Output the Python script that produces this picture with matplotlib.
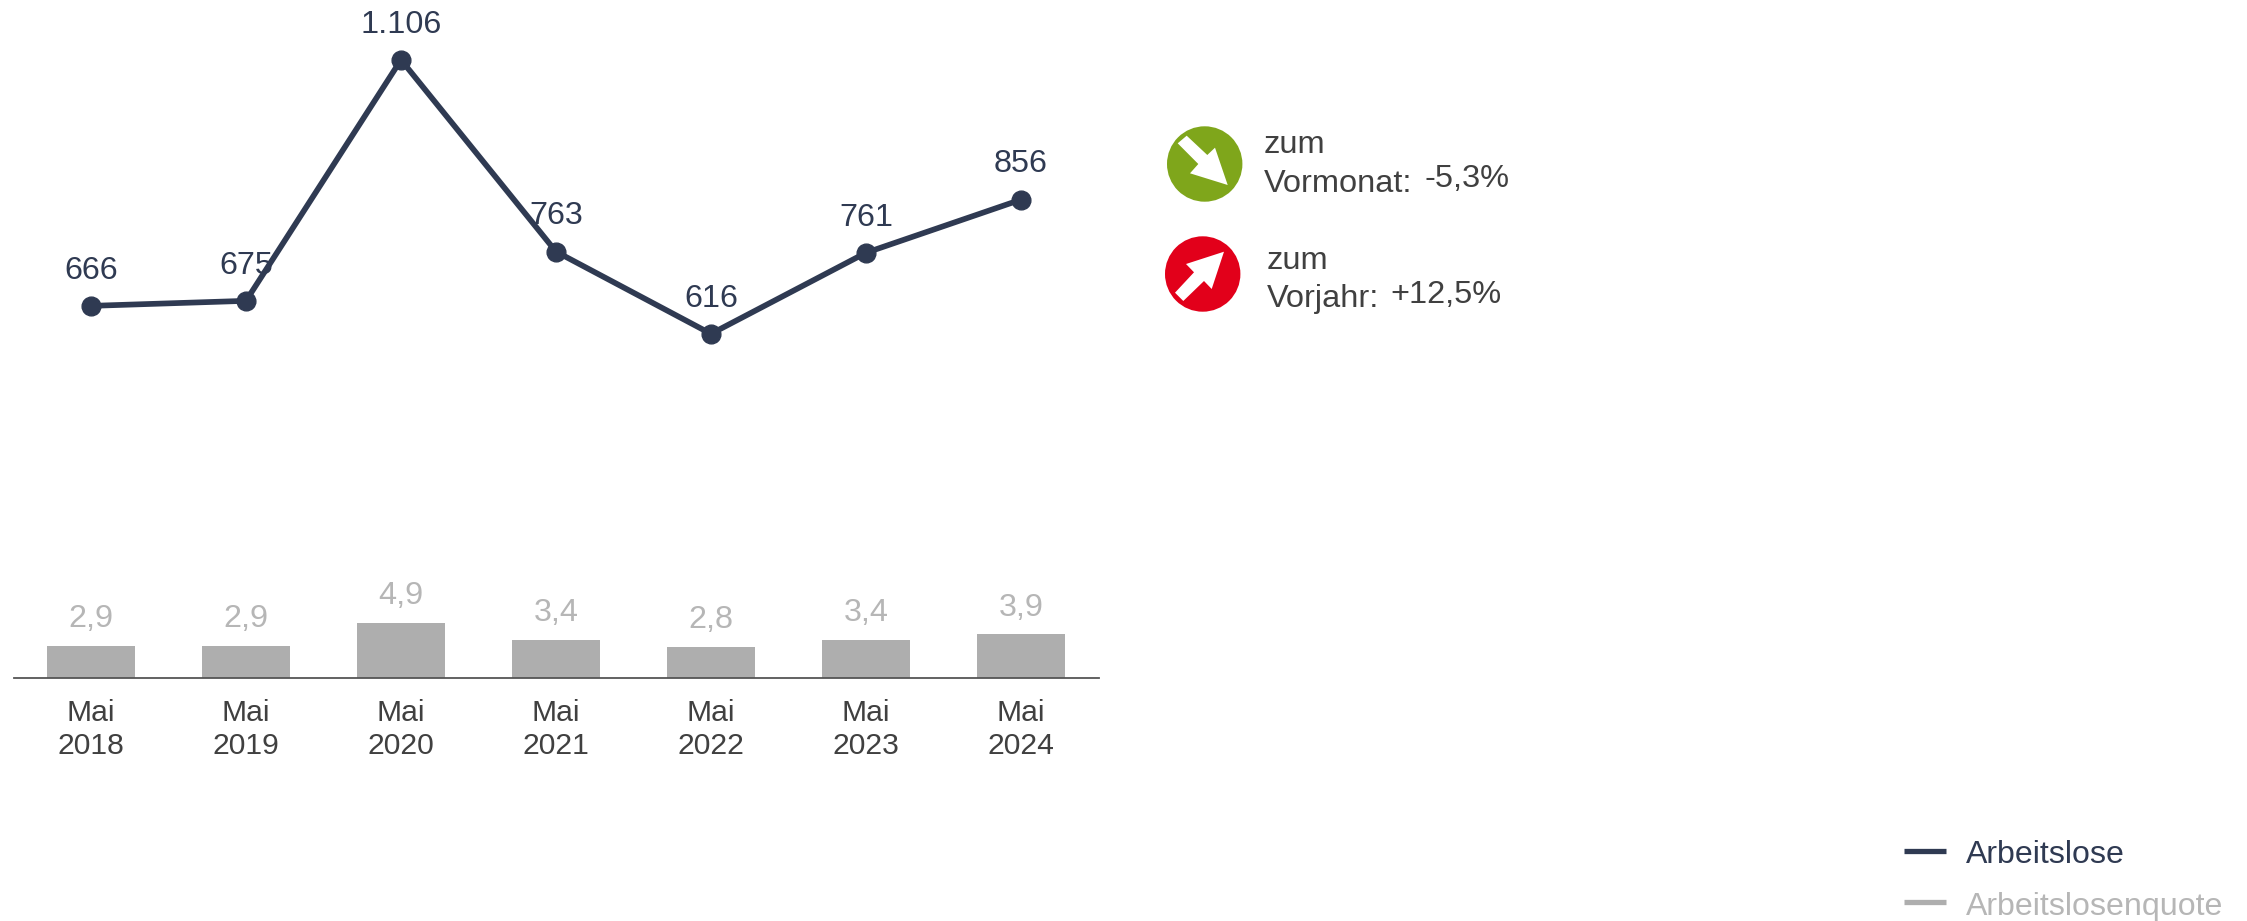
import matplotlib.pyplot as plt
from matplotlib.patches import Circle, Polygon

plt.rcParams['font.family'] = ['Liberation Sans', 'DejaVu Sans']

# data
jahre = ['2018', '2019', '2020', '2021', '2022', '2023', '2024']
arbeitslose = [666, 675, 1106, 763, 616, 761, 856]
arbeitslose_txt = ['666', '675', '1.106', '763', '616', '761', '856']
quote = [2.9, 2.9, 4.9, 3.4, 2.8, 3.4, 3.9]
quote_txt = ['2,9', '2,9', '4,9', '3,4', '2,8', '3,4', '3,9']

W, H = 2247, 921
dunkel = '#2f3a52'
grau = '#aeaeae'
grau_txt = '#b6b6b6'
text_c = '#404040'

fig = plt.figure(figsize=(W / 100, H / 100), dpi=100)

# bars and baseline
ax = fig.add_axes([13.5 / W, (H - 678) / H, 1085 / W, 678 / H])
x = list(range(len(jahre)))
ax.bar(x, quote, width=0.565, color=grau)
ax.set_xlim(-0.5, 6.5)
ax.set_ylim(0, 60.5)
for i in x:
    ax.annotate(quote_txt[i], (i, quote[i]), xytext=(0, 13.4), textcoords='offset points',
                ha='center', va='baseline', fontsize=23.3, color=grau_txt)
ax.set_xticks(x)
ax.set_xticklabels(['Mai\n' + j for j in jahre], fontsize=21.7, color=text_c, linespacing=1.22)
ax.tick_params(axis='x', length=0, pad=15)
ax.set_yticks([])
for s in ['top', 'left', 'right']:
    ax.spines[s].set_visible(False)
ax.spines['bottom'].set_color('#555555')
ax.spines['bottom'].set_linewidth(1.3)

# line on its own scale
ax2 = ax.twinx()
ax2.plot(x, arbeitslose, color=dunkel, lw=4.1, marker='o', ms=13.5, zorder=3, clip_on=False)
ax2.set_ylim(0.5, 1213)
ax2.set_yticks([])
for s in ax2.spines.values():
    s.set_visible(False)
for i in x:
    ax2.annotate(arbeitslose_txt[i], (i, arbeitslose[i]), xytext=(0, 19.6), textcoords='offset points',
                 ha='center', va='baseline', fontsize=23.3, color=dunkel, zorder=1)

# overlay in pixel coordinates for the arrows and the legend
ov = fig.add_axes([0, 0, 1, 1])
ov.set_xlim(0, W)
ov.set_ylim(H, 0)
ov.axis('off')
ov.patch.set_alpha(0)

ov.add_patch(Circle((1204.7, 164), 37.7, color='#7fa61b', lw=0))
ov.add_patch(Polygon([(1177.7, 143.3), (1186.7, 135.7), (1207.3, 155), (1215, 147.7),
                      (1227.7, 185), (1190, 173.3), (1198.3, 164)], color='white', lw=0))
ov.add_patch(Circle((1202.7, 274), 37.7, color='#e2001a', lw=0))
ov.add_patch(Polygon([(1175, 292.7), (1183.3, 301), (1204, 281), (1211.7, 289),
                      (1224, 251.7), (1186, 264), (1194, 272.3)], color='white', lw=0))

ov.text(1264, 153, 'zum', fontsize=23.4, color=text_c, va='baseline')
ov.text(1264, 192, 'Vormonat:', fontsize=23.4, color=text_c, va='baseline')
ov.text(1424, 187, '-5,3%', fontsize=23.4, color=text_c, va='baseline')
ov.text(1267, 269, 'zum', fontsize=23.4, color=text_c, va='baseline')
ov.text(1267, 307, 'Vorjahr:', fontsize=23.4, color=text_c, va='baseline')
ov.text(1390, 303, '+12,5%', fontsize=23.4, color=text_c, va='baseline')

# legend
ov.plot([1904, 1946], [851, 851], color=dunkel, lw=3.8, solid_capstyle='butt')
ov.plot([1904, 1946], [902, 902], color=grau, lw=3.8, solid_capstyle='butt')
ov.text(1966, 863, 'Arbeitslose', fontsize=23.1, color=dunkel, va='baseline')
ov.text(1966, 915, 'Arbeitslosenquote', fontsize=23.1, color=grau_txt, va='baseline')

fig.savefig('out.png', dpi=100)
